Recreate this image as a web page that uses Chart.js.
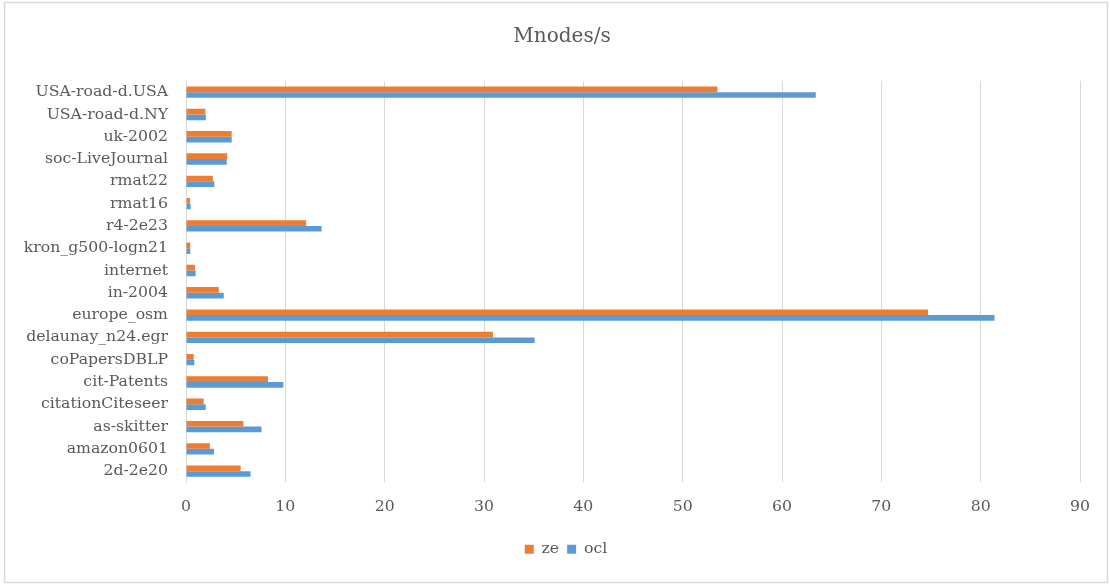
<!DOCTYPE html>
<html>
<head>
<meta charset="utf-8">
<script src="https://cdn.jsdelivr.net/npm/chart.js@4/dist/chart.umd.min.js"></script>
<style>
  html, body { margin: 0; padding: 0; background: #ffffff; }
  #wrap { width: 1110px; height: 584px; position: relative; }
</style>
</head>
<body>
<div id="wrap"><canvas id="chart" width="1110" height="584"></canvas></div>
<script>
// Graph datasets, listed top to bottom as they appear on the axis
const categories = [
  'USA-road-d.USA', 'USA-road-d.NY', 'uk-2002', 'soc-LiveJournal', 'rmat22',
  'rmat16', 'r4-2e23', 'kron_g500-logn21', 'internet', 'in-2004',
  'europe_osm', 'delaunay_n24.egr', 'coPapersDBLP', 'cit-Patents',
  'citationCiteseer', 'as-skitter', 'amazon0601', '2d-2e20'
];

// Throughput in millions of nodes per second
const zeValues = [
  53.5, 1.95, 4.6, 4.15, 2.7,
  0.4, 12.1, 0.43, 0.9, 3.3,
  74.7, 30.9, 0.77, 8.25,
  1.78, 5.77, 2.4, 5.5
];
const oclValues = [
  63.4, 2.0, 4.6, 4.1, 2.85,
  0.47, 13.65, 0.43, 0.97, 3.8,
  81.4, 35.1, 0.84, 9.8,
  1.98, 7.6, 2.82, 6.5
];

const xTickValues = [0, 10, 20, 30, 40, 50, 60, 70, 80, 90];

const textColor = '#595959';
const gridColor = '#D9D9D9';
const fontFamily = "'DejaVu Serif', serif";

// Light frame around the whole chart
const framePlugin = {
  id: 'frame',
  afterDraw(chart) {
    const ctx = chart.ctx;
    ctx.save();
    ctx.strokeStyle = gridColor;
    ctx.lineWidth = 1.5;
    ctx.strokeRect(4.5, 2.5, 1103, 580);
    ctx.restore();
  }
};

// Centre the title and legend on the inner frame rather than the full canvas
const centreShiftPlugin = {
  id: 'centreShift',
  afterLayout(chart) {
    if (chart.titleBlock) chart.titleBlock.left += 44;
    if (chart.legend) chart.legend.left += 52;
  }
};

new Chart(document.getElementById('chart'), {
  type: 'bar',
  data: {
    labels: categories,
    datasets: [
      { label: 'ze', data: zeValues, backgroundColor: '#ED7D31', borderWidth: 0 },
      { label: 'ocl', data: oclValues, backgroundColor: '#5B9BD5', borderWidth: 0 }
    ]
  },
  options: {
    indexAxis: 'y',
    responsive: false,
    animation: false,
    devicePixelRatio: 1,
    layout: { padding: { left: 0, right: 30, top: 10, bottom: 17 } },
    datasets: {
      bar: { categoryPercentage: 0.51, barPercentage: 1.0 }
    },
    plugins: {
      title: {
        display: true,
        text: 'Mnodes/s',
        color: textColor,
        font: { family: fontFamily, size: 20, weight: 'normal' },
        padding: { top: 15, bottom: 32 }
      },
      legend: {
        display: true,
        position: 'bottom',
        labels: {
          color: textColor,
          font: { family: fontFamily, size: 15.7 },
          boxWidth: 9,
          boxHeight: 9,
          padding: 8
        }
      },
      tooltip: { enabled: false }
    },
    scales: {
      x: {
        type: 'linear',
        min: 0,
        max: 90,
        afterBuildTicks(scale) {
          scale.ticks = xTickValues.map(v => ({ value: v }));
        },
        afterFit(scale) { scale.height = 51; },
        grid: { color: gridColor, lineWidth: 1, drawTicks: false },
        border: { display: false },
        ticks: {
          color: textColor,
          padding: 15,
          font: { family: fontFamily, size: 15.7 }
        }
      },
      y: {
        type: 'category',
        afterFit(scale) { scale.width = 186; },
        grid: { display: false, drawTicks: false },
        border: { display: true, color: gridColor, width: 1 },
        ticks: {
          color: textColor,
          padding: 18,
          autoSkip: false,
          font: { family: fontFamily, size: 15.7 }
        }
      }
    }
  },
  plugins: [framePlugin, centreShiftPlugin]
});
</script>
</body>
</html>
